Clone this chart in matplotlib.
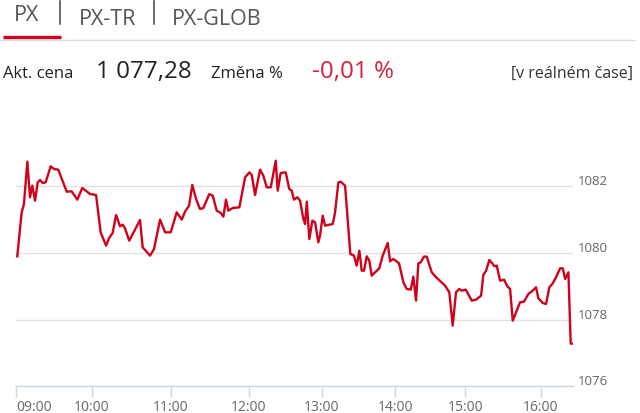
import matplotlib
matplotlib.use("Agg")
import matplotlib.pyplot as plt
import matplotlib.transforms as mtransforms
from matplotlib.lines import Line2D
import numpy as np

plt.rcParams['font.family'] = ['Open Sans', 'DejaVu Sans']

# minutes after 09:00 and index value (PX)
minutes = [1.0, 4.5, 6.3, 9.0, 11.1, 12.9, 15.1, 17.2, 19.0, 21.2, 23.5, 27.5,
           30.1, 33.5, 40.2, 44.1, 48.6, 52.5, 58.7, 63.3, 66.8, 70.9, 73.1,
           75.9, 78.5, 81.5, 83.5, 85.3, 88.5, 96.7, 98.7, 104.3, 107.3, 111.9,
           115.7, 120.0, 124.6, 128.5, 131.0, 134.1, 136.6, 139.5, 142.5,
           145.1, 149.7, 152.3, 155.4, 158.5, 160.5, 162.5, 164.3, 167.7,
           172.8, 177.2, 180.5, 182.5, 185.2, 189.3, 192.0, 194.8, 198.1,
           202.2, 203.8, 206.3, 210.4, 213.3, 215.3, 217.2, 219.9, 222.2,
           224.9, 226.3, 227.7, 229.8, 232.3, 234.5, 237.2, 238.6, 240.8,
           242.7, 245.4, 249.0, 250.9, 253.6, 255.5, 259.1, 263.4, 266.4,
           268.6, 270.8, 272.7, 274.6, 276.8, 278.9, 280.9, 287.1, 289.9,
           294.0, 295.9, 298.6, 303.4, 307.1, 310.0, 313.4, 315.6, 317.9,
           319.9, 321.9, 324.7, 327.0, 331.3, 335.0, 342.7, 346.3, 349.2,
           352.0, 354.8, 356.9, 360.3, 365.1, 368.5, 372.5, 374.3, 376.5,
           379.1, 381.8, 383.1, 385.0, 387.6, 390.8, 393.4, 395.6, 397.7,
           400.9, 403.5, 406.7, 410.1, 413.6, 416.2, 418.1, 421.6, 424.2,
           426.8, 429.2, 432.1, 435.4, 437.5, 439.4, 442.0, 443.8, 445.4]
price = [1079.90, 1081.22, 1081.47, 1082.74, 1081.67, 1082.02, 1081.57,
         1082.12, 1082.19, 1082.10, 1082.12, 1082.60, 1082.52, 1082.50,
         1081.84, 1081.85, 1081.60, 1081.95, 1081.77, 1081.74, 1080.62,
         1080.22, 1080.44, 1080.60, 1081.14, 1080.80, 1080.85, 1080.74,
         1080.37, 1080.99, 1080.17, 1079.92, 1080.12, 1081.00, 1080.62,
         1080.62, 1081.22, 1081.00, 1081.24, 1081.42, 1082.04, 1081.62,
         1081.32, 1081.35, 1081.77, 1081.72, 1081.27, 1081.20, 1081.09,
         1081.60, 1081.27, 1081.35, 1081.37, 1082.27, 1082.42, 1082.34,
         1081.74, 1082.50, 1082.32, 1081.97, 1081.97, 1082.77, 1081.87,
         1082.40, 1082.42, 1081.92, 1081.87, 1081.60, 1081.67, 1081.57,
         1081.02, 1080.87, 1081.54, 1080.42, 1080.97, 1080.92, 1080.32,
         1080.52, 1081.12, 1080.82, 1080.84, 1080.87, 1081.22, 1082.12,
         1082.14, 1082.02, 1079.97, 1079.92, 1079.62, 1080.07, 1079.47,
         1079.47, 1079.90, 1079.77, 1079.32, 1079.54, 1079.92, 1080.30,
         1079.75, 1079.82, 1079.69, 1079.12, 1078.92, 1078.90, 1079.29,
         1078.57, 1079.69, 1079.72, 1079.89, 1079.89, 1079.42, 1079.27,
         1079.02, 1078.82, 1077.82, 1078.82, 1078.92, 1078.87, 1078.90,
         1078.57, 1078.60, 1078.72, 1079.34, 1079.47, 1079.79, 1079.67,
         1079.60, 1079.62, 1079.17, 1079.20, 1079.00, 1078.92, 1077.97,
         1078.27, 1078.52, 1078.54, 1078.77, 1078.87, 1078.97, 1078.64,
         1078.50, 1078.47, 1078.97, 1079.07, 1079.27, 1079.54, 1079.54,
         1079.22, 1079.42, 1077.28, 1077.28]

hour_ticks = [0, 60, 120, 180, 240, 300, 360, 420]
hour_labels = ['09:00', '10:00', '11:00', '12:00', '13:00', '14:00', '15:00', '16:00']
y_ticks = [1076, 1078, 1080, 1082]

# the time axis is not evenly spaced in the original; anchor it to its ticks
scale_min = [-60, 0, 60, 120, 180, 240, 300, 360, 420, 480]
scale_pos = [-59.7, 16, 91.7, 170.7, 248.7, 321.7, 395, 465.3, 540.7, 616.1]


def fwd(m):
    return np.interp(m, scale_min, scale_pos)


def inv(p):
    return np.interp(p, scale_pos, scale_min)


W, H = 640, 414
fig = plt.figure(figsize=(6.4, 4.14), dpi=100)
ax = fig.add_axes([16 / W, (H - 387.3) / H, (572.7 - 16) / W, (387.3 - 134) / H])

red = '#d0021b'
ax.plot(minutes, price, color=red, lw=1.7, solid_joinstyle='round')

ax.set_xscale('function', functions=(fwd, inv))
ax.set_xlim(0, 445.4)
ax.set_ylim(1076, 1083.6)

ax.set_xticks(hour_ticks)
ax.set_xticklabels(hour_labels)
ax.xaxis.set_minor_locator(matplotlib.ticker.NullLocator())
ax.tick_params(axis='x', length=8, width=1, color='#ccd6eb', pad=1.5,
               labelsize=10, labelcolor='#666666')
ax.get_xticklabels()[0].set_horizontalalignment('left')

ax.yaxis.tick_right()
ax.set_yticks(y_ticks)
ax.tick_params(axis='y', length=0, pad=3.5, labelsize=9.5, labelcolor='#666666')
up = mtransforms.ScaledTranslation(0, 7 / 100, fig.dpi_scale_trans)
for lab in ax.get_yticklabels():
    lab.set_transform(lab.get_transform() + up)

for v in y_ticks[1:]:
    ax.axhline(v, color='#e2e2e2', lw=1, zorder=0)

for side in ['top', 'left', 'right']:
    ax.spines[side].set_visible(False)
ax.spines['bottom'].set_color('#ccd6eb')
ax.spines['bottom'].set_linewidth(1)


def px(x, y):
    return x / W, 1 - y / H


# tab header
fig.text(*px(14, 20.7), 'PX', fontsize=15.5, color='#555555', va='baseline')
fig.text(*px(79, 25), 'PX-TR', fontsize=15.5, color='#555555', va='baseline')
fig.text(*px(172, 25), 'PX-GLOB', fontsize=15.5, color='#555555', va='baseline')
for xs in [60.3, 154.2]:
    fig.add_artist(Line2D([xs / W, xs / W], [1 - 2 / H, 1 - 25 / H],
                          color='#444444', lw=1.1))
fig.add_artist(Line2D([0, 635 / W], [1 - 40.7 / H] * 2, color='#dddddd', lw=1))
fig.add_artist(Line2D([2.7 / W, 60.7 / W], [1 - 37.7 / H] * 2, color=red,
                      lw=2.4, solid_capstyle='butt'))

# quote row
fig.text(*px(2.7, 78.3), 'Akt. cena', fontsize=12, color='#222222', va='baseline')
fig.text(*px(96, 78.3), '1 077,28', fontsize=17.4, color='#222222', va='baseline')
fig.text(*px(210.7, 78.3), 'Změna %', fontsize=12, color='#222222', va='baseline')
fig.text(*px(312.5, 78.3), '-0,01 %', fontsize=17.4, color='#d3203b', va='baseline')
fig.text(*px(633.3, 78.3), '[v reálném čase]', fontsize=11.5, color='#333333',
         va='baseline', ha='right')

fig.savefig('out.png', dpi=100)
